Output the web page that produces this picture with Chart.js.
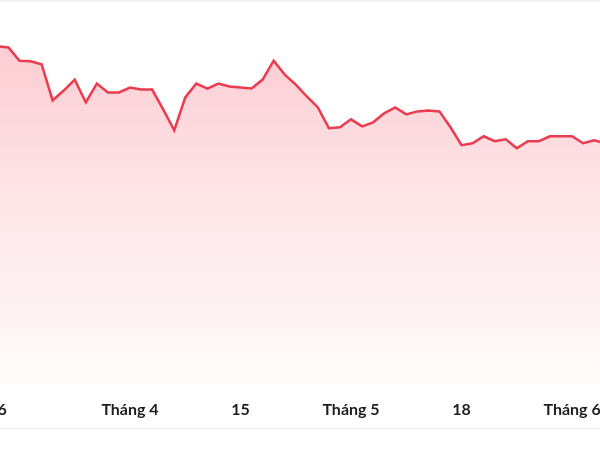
<!DOCTYPE html>
<html>
<head>
<meta charset="utf-8">
<script src="https://cdn.jsdelivr.net/npm/chart.js@4/dist/chart.umd.min.js"></script>
<style>
  html, body { margin: 0; padding: 0; background: #fff; }
  #frame { position: relative; width: 600px; height: 450px; overflow: hidden; }
  #wrap { position: absolute; left: -40px; top: 0; width: 680px; height: 450px; }
  .rule { position: absolute; left: 0; width: 600px; }
  #ruleTop { top: 0; height: 2px; background: #f1f1f1; }
  #ruleBottom { top: 428px; height: 1px; background: #ececec; }
</style>
</head>
<body>
<div id="frame">
  <div id="wrap"><canvas id="chart" width="680" height="450"></canvas></div>
  <div class="rule" id="ruleTop"></div>
  <div class="rule" id="ruleBottom"></div>
</div>
<script>
// giá đóng cửa theo phiên
const prices = [
  34.15, 34.03, 32.7, 32.65, 32.35, 28.7, 29.7, 30.8, 28.5, 30.4,
  29.5, 29.5, 30.0, 29.8, 29.8, 27.8, 25.7, 29.0, 30.4, 29.9,
  30.4, 30.1, 30.0, 29.9, 30.8, 32.7, 31.3, 30.3, 29.1, 28.0,
  25.9, 26.0, 26.8, 26.1, 26.5, 27.4, 28.0, 27.3, 27.6, 27.7,
  27.6, 26.0, 24.2, 24.4, 25.1, 24.6, 24.8, 23.9, 24.6, 24.6,
  25.1, 25.1, 25.1, 24.4, 24.7, 24.4
];

// nhãn trục x: vị trí phiên và chữ hiển thị
const tickIndex = [0, 12, 22, 32, 42, 52];
const tickLabels = ['26', 'Tháng 4', '15', 'Tháng 5', '18', 'Tháng 6'];

const labels = prices.map((_, i) => {
    const k = tickIndex.indexOf(i);
    return k >= 0 ? tickLabels[k] : '';
});

const ctx = document.getElementById('chart').getContext('2d');

function fillGradient(context) {
    const area = context.chart.chartArea;
    if (!area) return 'rgba(253, 205, 212, 0.8)';
    const g = context.chart.ctx.createLinearGradient(0, area.top, 0, area.bottom);
    g.addColorStop(0, '#fcc6cd');
    g.addColorStop(0.45, '#fde2e5');
    g.addColorStop(1, '#fffcfc');
    return g;
}

new Chart(ctx, {
    type: 'line',
    data: {
        labels: labels,
        datasets: [{
            data: prices,
            borderColor: '#ec3a4e',
            borderWidth: 2.5,
            backgroundColor: fillGradient,
            fill: 'start',
            tension: 0,
            pointRadius: 0,
            pointHoverRadius: 0
        }]
    },
    options: {
        responsive: false,
        animation: false,
        layout: {
            // chart bị cắt hai bên như ảnh gốc
            padding: { left: 37.4, right: 34.8, top: 8, bottom: 17 }
        },
        plugins: {
            legend: { display: false },
            tooltip: { enabled: false },
            title: { display: false }
        },
        scales: {
            x: {
                offset: false,
                grid: { display: false, drawTicks: false },
                border: { display: false },
                ticks: {
                    autoSkip: false,
                    maxRotation: 0,
                    padding: 14,
                    color: '#1e1e1e',
                    font: { family: 'Lato', size: 16, weight: 'bold' }
                }
            },
            y: {
                display: false,
                min: 0,
                max: 38
            }
        }
    }
});
</script>
</body>
</html>
